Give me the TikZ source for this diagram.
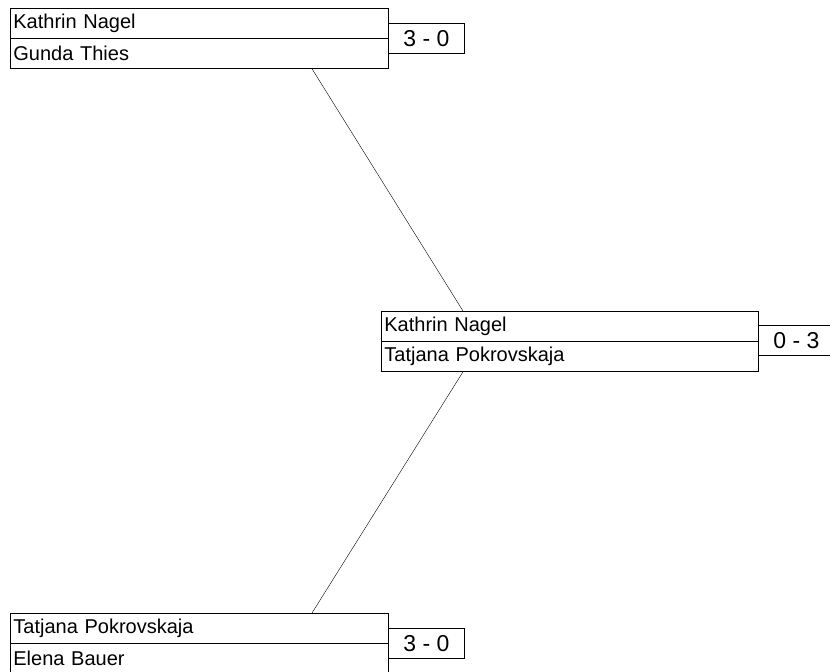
\documentclass[tikz,border=0pt]{standalone}
\usepackage{fontspec}
\setmainfont{Liberation Sans}
\begin{document}
\begin{tikzpicture}
  [x=1pt,y=-1pt,line width=0.8pt,
   player/.style={rectangle,draw,anchor=north west,minimum height=30pt,
     text width=372pt,inner sep=3pt,align=left,font=\fontsize{20}{20}\selectfont},
   score/.style={anchor=north west,minimum height=30pt,inner sep=0pt,
     font=\fontsize{23}{23}\selectfont}]
  \useasboundingbox (0,0) rectangle (830,672);

  % first match
  \node[player] (m1a) at (10,8)  {Kathrin Nagel};
  \node[player] (m1b) at (10,38) {Gunda Thies};
  \node[score,minimum width=76pt] (s1) at (388,23) {3 - 0};

  % final
  \node[player,text width=371pt] (m2a) at (381,311) {Kathrin Nagel};
  \node[player,text width=371pt] (m2b) at (381,341) {Tatjana Pokrovskaja};
  \node[score,minimum width=76pt] (s2) at (758,325) {0 - 3};

  % second match
  \node[player] (m3a) at (10,613) {Tatjana Pokrovskaja};
  \node[player] (m3b) at (10,643) {Elena Bauer};
  \node[score,minimum width=76pt] (s3) at (388,628) {3 - 0};

  \foreach \s in {s1, s3}
    \draw (\s.north west) -- (\s.north east) -- (\s.south east) -- (\s.south west);
  \draw (s2.north west) -- (s2.north east);
  \draw (s2.south west) -- (s2.south east);

  \draw[line width=0.4pt] ([xshift=302pt]m1b.south west) -- ([xshift=82pt]m2a.north west);
  \draw[line width=0.4pt] ([xshift=82pt]m2b.south west) -- ([xshift=302pt]m3a.north west);
\end{tikzpicture}
\end{document}
